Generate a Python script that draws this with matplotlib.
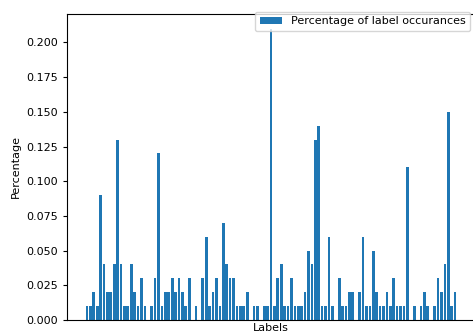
import matplotlib
matplotlib.use("Agg")
import matplotlib.pyplot as plt
import numpy as np

percentages = [
    0.01, 0.01, 0.02, 0.01, 0.09, 0.04, 0.02, 0.02, 0.04, 0.13,
    0.04, 0.01, 0.01, 0.04, 0.02, 0.01, 0.03, 0.01, 0.00, 0.01,
    0.03, 0.12, 0.01, 0.02, 0.02, 0.03, 0.02, 0.03, 0.02, 0.01,
    0.03, 0.00, 0.01, 0.00, 0.03, 0.06, 0.01, 0.02, 0.03, 0.01,
    0.07, 0.04, 0.03, 0.03, 0.01, 0.01, 0.01, 0.02, 0.00, 0.01,
    0.01, 0.00, 0.01, 0.01, 0.21, 0.01, 0.03, 0.04, 0.01, 0.01,
    0.03, 0.01, 0.01, 0.01, 0.02, 0.05, 0.04, 0.13, 0.14, 0.01,
    0.01, 0.06, 0.01, 0.00, 0.03, 0.01, 0.01, 0.02, 0.02, 0.00,
    0.02, 0.06, 0.01, 0.01, 0.05, 0.02, 0.01, 0.01, 0.02, 0.01,
    0.03, 0.01, 0.01, 0.01, 0.11, 0.00, 0.01, 0.00, 0.01, 0.02,
    0.01, 0.00, 0.01, 0.03, 0.02, 0.04, 0.15, 0.01, 0.02,
]
labels = list(range(len(percentages)))

W, H = 473, 333
fig = plt.figure(figsize=(W / 100, H / 100), dpi=100)
ax = fig.add_axes([67 / W, 1 - 320 / H, (475 - 67) / W, (320 - 14) / H])

ax.bar(labels, percentages, color="#1f77b4", width=0.8,
       label="Percentage of label occurances")
ax.set_xticks([])
ax.set_yticks(np.arange(0, 0.201, 0.025))
ax.set_yticklabels([f"{v:.3f}" for v in np.arange(0, 0.201, 0.025)])
ax.tick_params(axis="y", labelsize=8, length=3)
ax.set_xlabel("Labels", fontsize=8, labelpad=2)
ax.set_ylabel("Percentage", fontsize=8)
ax.legend(loc="upper right", fontsize=8, borderaxespad=0,
          bbox_to_anchor=(470 / W, 1 - 12 / H), bbox_transform=fig.transFigure)

fig.savefig("out.png", dpi=100)
